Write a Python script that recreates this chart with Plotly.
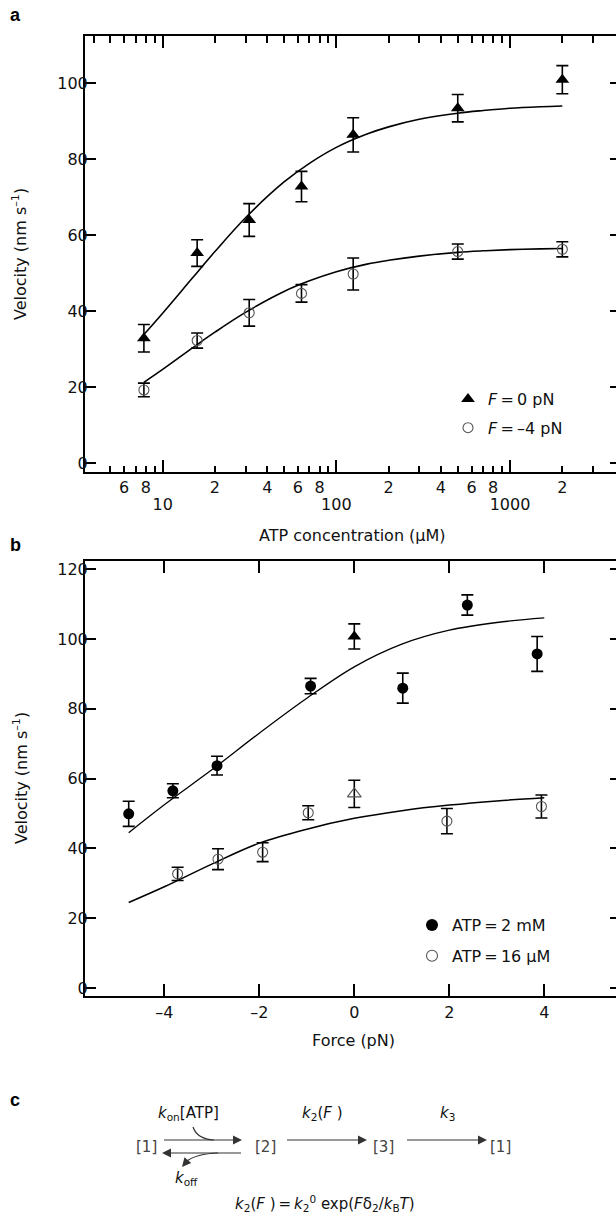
import plotly.graph_objects as go

W, H = 616, 1219
def px(x): return x / W
def py(y): return 1 - y / H

# ---------------- data: panel a ----------------
atp_conc = [7.8, 15.8, 31.5, 63, 125, 500, 2000]
v_f0 = [32.9, 55.3, 64.0, 72.8, 86.4, 93.4, 100.9]
err_f0 = [3.6, 3.5, 4.3, 4.0, 4.5, 3.6, 3.7]
v_fm4 = [19.3, 32.3, 39.6, 44.7, 49.8, 55.7, 56.3]
err_fm4 = [1.8, 2.0, 3.5, 2.3, 4.2, 2.0, 2.0]

atp_fit = [7.8, 10, 15, 20, 30, 50, 70, 100, 150, 200, 300, 500, 700, 1000, 1500, 2000]
fit_f0 = [33.9, 39.5, 49.0, 55.7, 64.6, 74.0, 78.9, 83.1, 86.6, 88.5, 90.5, 92.1, 92.8, 93.4, 93.8, 94.0]
fit_fm4 = [21.3, 24.7, 30.5, 34.5, 39.7, 45.2, 48.0, 50.4, 52.4, 53.4, 54.5, 55.5, 55.9, 56.2, 56.4, 56.5]

a_label_vals = [6, 8, 20, 40, 60, 80, 200, 400, 600, 800, 2000]
a_label_text = ["6", "8", "2", "4", "6", "8", "2", "4", "6", "8", "2"]
a_bottom_minor = [5, 7, 9, 30, 50, 70, 90, 300, 500, 700, 900, 3000]
a_top_minor = [4, 5, 6, 7, 8, 9, 20, 30, 40, 50, 60, 70, 80, 90,
               200, 300, 400, 500, 600, 700, 800, 900, 2000, 3000]
a_decades = [10, 100, 1000]
a_decade_text = ["10", "100", "1000"]
a_yticks = [0, 20, 40, 60, 80, 100]

# ---------------- data: panel b ----------------
force_2mM = [-4.75, -3.82, -2.89, -0.92, 1.02, 2.38, 3.85]
v_2mM = [49.9, 56.5, 63.7, 86.5, 85.9, 109.7, 95.7]
err_2mM = [3.6, 2.0, 2.7, 2.2, 4.3, 2.9, 5.0]
force_16uM = [-3.72, -2.87, -1.93, -0.97, 1.95, 3.94]
v_16uM = [32.7, 36.9, 38.9, 50.2, 47.8, 52.0]
err_16uM = [1.9, 3.0, 2.7, 2.0, 3.6, 3.3]
force_zero = [0]
v_zero_2mM = [100.7]
err_zero_2mM = [3.6]
v_zero_16uM = [55.6]
err_zero_16uM = [3.9]

force_fit = [-4.75, -4, -3, -2, -1, 0, 1, 2, 3, 4]
fit_2mM = [44.5, 52.5, 62.5, 73.0, 83.0, 92.0, 98.5, 102.5, 104.7, 106.0]
fit_16uM = [24.5, 29.0, 35.5, 41.5, 45.5, 48.6, 50.8, 52.4, 53.6, 54.5]

b_xticks = [-4, -2, 0, 2, 4]
b_xtext = ["\u20134", "\u20132", "0", "2", "4"]
b_yticks = [0, 20, 40, 60, 80, 100, 120]

FONT = "DejaVu Sans, Liberation Sans, Arial, sans-serif"
TXT = "#111"
GRAY = "#555"

fig = go.Figure()

def errs(arr):
    return dict(type="data", array=arr, color="black", thickness=1.6, width=6)

# ---- panel a traces
fig.add_trace(go.Scatter(x=atp_fit, y=fit_f0, mode="lines", xaxis="x", yaxis="y",
                         line=dict(color="black", width=1.6, shape="spline"),
                         showlegend=False, hoverinfo="skip"))
fig.add_trace(go.Scatter(x=atp_fit, y=fit_fm4, mode="lines", xaxis="x", yaxis="y",
                         line=dict(color="black", width=1.6, shape="spline"),
                         showlegend=False, hoverinfo="skip"))
fig.add_trace(go.Scatter(x=atp_conc, y=v_f0, mode="markers", xaxis="x", yaxis="y",
                         error_y=errs(err_f0),
                         marker=dict(symbol="triangle-up", size=12, color="black"),
                         showlegend=False))
fig.add_trace(go.Scatter(x=atp_conc, y=v_fm4, mode="markers", xaxis="x", yaxis="y",
                         error_y=errs(err_fm4),
                         marker=dict(symbol="circle-open", size=10, color=GRAY,
                                     line=dict(width=1.1, color=GRAY)),
                         showlegend=False))
# legend a
fig.add_trace(go.Scatter(x=[None], y=[None], mode="markers", xaxis="x", yaxis="y",
                         marker=dict(symbol="triangle-up", size=12, color="black"),
                         name="<i>F</i>\u2009=\u20090 pN", legend="legend", legendgroup="a1"))
fig.add_trace(go.Scatter(x=[None], y=[None], mode="markers", xaxis="x", yaxis="y",
                         marker=dict(symbol="circle-open", size=10, color=GRAY,
                                     line=dict(width=1.1, color=GRAY)),
                         name="<i>F</i>\u2009=\u2009\u20134 pN", legend="legend", legendgroup="a2"))

# ---- panel b traces
fig.add_trace(go.Scatter(x=force_fit, y=fit_2mM, mode="lines", xaxis="x2", yaxis="y2",
                         line=dict(color="black", width=1.3, shape="spline"),
                         showlegend=False, hoverinfo="skip"))
fig.add_trace(go.Scatter(x=force_fit, y=fit_16uM, mode="lines", xaxis="x2", yaxis="y2",
                         line=dict(color="black", width=1.5, shape="spline"),
                         showlegend=False, hoverinfo="skip"))
fig.add_trace(go.Scatter(x=force_2mM, y=v_2mM, mode="markers", xaxis="x2", yaxis="y2",
                         error_y=errs(err_2mM),
                         marker=dict(symbol="circle", size=11, color="black"),
                         showlegend=False))
fig.add_trace(go.Scatter(x=force_16uM, y=v_16uM, mode="markers", xaxis="x2", yaxis="y2",
                         error_y=errs(err_16uM),
                         marker=dict(symbol="circle-open", size=10, color=GRAY,
                                     line=dict(width=1.1, color=GRAY)),
                         showlegend=False))
fig.add_trace(go.Scatter(x=force_zero, y=v_zero_2mM, mode="markers", xaxis="x2", yaxis="y2",
                         error_y=errs(err_zero_2mM),
                         marker=dict(symbol="triangle-up", size=12, color="black"),
                         showlegend=False))
fig.add_trace(go.Scatter(x=force_zero, y=v_zero_16uM, mode="markers", xaxis="x2", yaxis="y2",
                         error_y=errs(err_zero_16uM),
                         marker=dict(symbol="triangle-up-open", size=12, color=GRAY,
                                     line=dict(width=1.1, color=GRAY)),
                         showlegend=False))
# legend b
fig.add_trace(go.Scatter(x=[None], y=[None], mode="markers", xaxis="x2", yaxis="y2",
                         marker=dict(symbol="circle", size=12, color="black"),
                         name="ATP\u2009=\u20092 mM", legend="legend2", legendgroup="b1"))
fig.add_trace(go.Scatter(x=[None], y=[None], mode="markers", xaxis="x2", yaxis="y2",
                         marker=dict(symbol="circle-open", size=11, color=GRAY,
                                     line=dict(width=1.1, color=GRAY)),
                         name="ATP\u2009=\u200916 \u00b5M", legend="legend2", legendgroup="b2"))

# dummy traces to activate overlay axes (top / right tick marks)
for xa, ya in [("x3", "y"), ("x5", "y"), ("x", "y3"), ("x4", "y2"), ("x2", "y4")]:
    fig.add_trace(go.Scatter(x=[None], y=[None], xaxis=xa, yaxis=ya, showlegend=False,
                             hoverinfo="skip", mode="markers"))

# ---------------- axes ----------------
xdom = [px(85), 1.0]
a_ydom = [py(471.7), py(36)]
b_ydom = [py(996.4), py(560.7)]
a_xrange = [0.553, 3.61]
a_yrange = [-2.2, 112.4]
b_xrange = [-5.67, 5.51]
b_yrange = [-2.4, 122.4]

tickfont = dict(family=FONT, size=16, color=TXT)
common = dict(showgrid=False, zeroline=False, ticks="inside", tickwidth=2,
              tickcolor="black", automargin=False, tickfont=tickfont)

fig.update_layout(
    xaxis=dict(domain=xdom, type="log", range=a_xrange, anchor="y", side="bottom",
               showline=True, linewidth=2, linecolor="black",
               tickmode="array", tickvals=a_label_vals, ticktext=a_label_text, ticklen=6,
               minor=dict(tickmode="array", tickvals=a_bottom_minor, ticks="inside",
                          ticklen=6, tickwidth=2, tickcolor="black", showgrid=False),
               **common),
    xaxis3=dict(type="log", range=a_xrange, overlaying="x", anchor="y", side="bottom",
                showline=False, tickmode="array", tickvals=a_decades, ticktext=a_decade_text,
                ticklen=12, ticklabelstandoff=21, **common),
    xaxis5=dict(type="log", range=a_xrange, overlaying="x", anchor="y", side="top",
                showline=True, linewidth=2, linecolor="black", showticklabels=False,
                tickmode="array", tickvals=a_decades, ticklen=12,
                minor=dict(tickmode="array", tickvals=a_top_minor, ticks="inside",
                           ticklen=7, tickwidth=2, tickcolor="black", showgrid=False),
                **common),
    yaxis=dict(domain=a_ydom, range=a_yrange, anchor="x", showline=True, linewidth=2,
               linecolor="black", tickmode="array", tickvals=a_yticks, ticklen=11,
               ticklabelstandoff=-8, **common),
    yaxis3=dict(range=a_yrange, overlaying="y", anchor="x", side="right", showline=False,
                showticklabels=False, tickmode="array", tickvals=a_yticks, ticklen=6, **common),
    xaxis2=dict(domain=xdom, range=b_xrange, anchor="y2", side="bottom", showline=True,
                linewidth=2, linecolor="black", tickmode="array", tickvals=b_xticks,
                ticktext=b_xtext, ticklen=12, **common),
    xaxis4=dict(range=b_xrange, overlaying="x2", anchor="y2", side="top", showline=True,
                linewidth=2, linecolor="black", showticklabels=False, tickmode="array",
                tickvals=b_xticks, ticklen=12, **common),
    yaxis2=dict(domain=b_ydom, range=b_yrange, anchor="x2", showline=True, linewidth=2,
                linecolor="black", tickmode="array", tickvals=b_yticks, ticklen=11,
                ticklabelstandoff=-8, **common),
    yaxis4=dict(range=b_yrange, overlaying="y2", anchor="x2", side="right", showline=False,
                showticklabels=False, tickmode="array", tickvals=b_yticks, ticklen=6, **common),
)

legend_common = dict(xanchor="left", yanchor="top", bgcolor="rgba(0,0,0,0)",
                     borderwidth=0, font=dict(family=FONT, size=16, color=TXT),
                     itemsizing="trace", traceorder="grouped")
fig.update_layout(
    legend=dict(x=px(448), y=py(382), tracegroupgap=5, **legend_common),
    legend2=dict(x=px(412), y=py(908), tracegroupgap=7, **legend_common),
)

# ---------------- text ----------------
def text(x, y, s, size=16, angle=0, family=FONT, color=TXT, xanchor="center"):
    fig.add_annotation(x=px(x), y=py(y), xref="paper", yref="paper", text=s,
                       showarrow=False, textangle=angle, xanchor=xanchor, yanchor="middle",
                       font=dict(family=family, size=size, color=color))

LAB = "Liberation Sans, Arial, sans-serif"
text(15, 15, "<b>a</b>", size=18, color="black", family=LAB)
text(15, 545, "<b>b</b>", size=18, color="black", family=LAB)
text(15, 1100, "<b>c</b>", size=18, color="black", family=LAB)
text(20, 254, "Velocity (nm s<sup>\u20131</sup>)", angle=-90)
text(20, 778, "Velocity (nm s<sup>\u20131</sup>)", angle=-90)
text(352, 535, "ATP concentration (\u00b5M)")
text(353, 1040, "Force (pN)")

# ---------------- panel c: kinetic scheme ----------------
SCH = "#333"
text(188, 1113, "<i>k</i><sub>on</sub>[ATP]", size=15)
text(322, 1113, "<i>k</i><sub>2</sub>(<i>F</i> )", size=15)
text(447, 1113, "<i>k</i><sub>3</sub>", size=15)
text(187, 1178, "<i>k</i><sub>off</sub>", size=15)
BR = "DejaVu Sans, sans-serif"
text(146, 1147, "[1]", size=15, family=BR, color="#444")
text(265, 1147, "[2]", size=15, family=BR, color="#444")
text(383, 1147, "[3]", size=15, family=BR, color="#444")
text(500, 1147, "[1]", size=15, family=BR, color="#444")
text(325, 1203, "<i>k</i><sub>2</sub>(<i>F</i> )\u2009=\u2009<i>k</i><sub>2</sub><sup>0</sup> exp(<i>F</i>\u03b4<sub>2</sub>/<i>k</i><sub>B</sub><i>T</i>)", size=15)

def arrow(x0, y0, x1, y1):
    fig.add_annotation(x=px(x1), y=py(y1), xref="paper", yref="paper",
                       ax=x0 - x1, ay=y0 - y1, axref="pixel", ayref="pixel",
                       showarrow=True, arrowhead=2, arrowsize=1.5, arrowwidth=1.2,
                       arrowcolor=SCH, text=" ", standoff=0,
                       font=dict(family=FONT, size=2))

arrow(162, 1140, 242, 1140)
arrow(243, 1153, 162, 1153)
arrow(285, 1140, 367, 1140)
arrow(405, 1140, 487, 1140)

def pp(x, y):
    return f"{px(x):.5f},{py(y):.5f}"

# k_on curved feed-in
fig.add_shape(type="path", xref="paper", yref="paper",
              path=f"M{pp(193,1127)} Q{pp(197,1139)} {pp(214,1140)}",
              line=dict(color=SCH, width=1.2))
# k_off curved release
fig.add_shape(type="path", xref="paper", yref="paper",
              path=f"M{pp(218,1153)} Q{pp(196,1154)} {pp(187,1161)}",
              line=dict(color=SCH, width=1.2))
arrow(188, 1160, 182, 1167)

fig.update_layout(width=W, height=H, autosize=False, template="none",
                  margin=dict(l=0, r=0, t=0, b=0),
                  paper_bgcolor="white", plot_bgcolor="white",
                  font=dict(family=FONT, size=16, color=TXT))

fig.write_html("out.html", config={"displayModeBar": False},
               post_script="document.body.style.margin='0';document.body.style.padding='0';document.body.style.overflow='hidden';")
